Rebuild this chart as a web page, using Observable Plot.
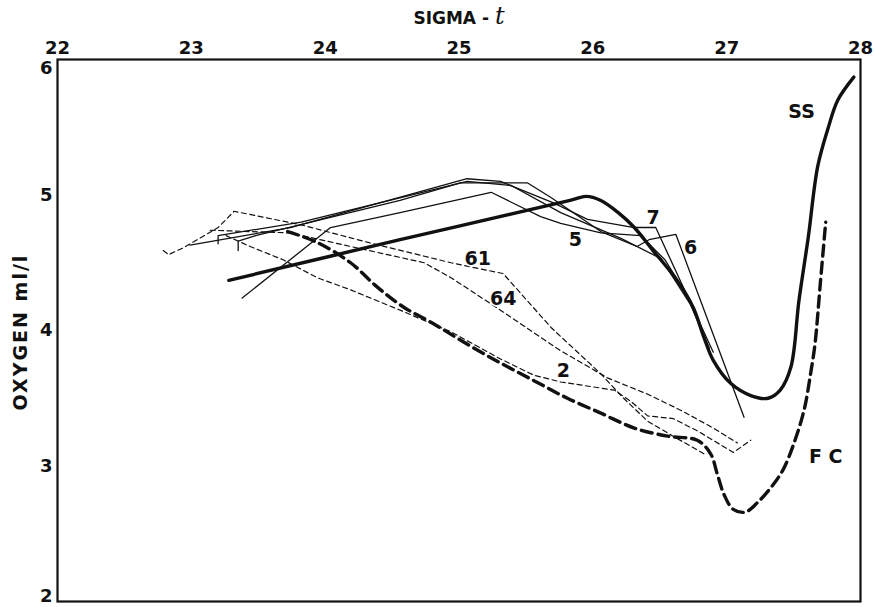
<!DOCTYPE html>
<html>
<head>
<meta charset="utf-8">
<script src="https://cdn.jsdelivr.net/npm/d3@7"></script>
<script src="https://cdn.jsdelivr.net/npm/@observablehq/plot@0.6"></script>
<style>
  html, body { margin: 0; padding: 0; background: #fff; }
  #chart svg { display: block; }
</style>
</head>
<body>
<div id="chart"></div>
<script>
// Tick labels
const sigmaTicks = [22, 23, 24, 25, 26, 27, 28];
const oxygenTicks = [2, 3, 4, 5, 6];

// Heavy curves: [sigma-t, oxygen ml/l]
const curveSS = [
  [23.28, 4.37], [24.56, 4.67], [25.83, 4.96], [25.95, 4.99], [26.06, 4.96],
  [26.19, 4.87], [26.31, 4.76], [26.45, 4.59], [26.63, 4.37], [26.75, 4.17],
  [26.83, 3.95], [26.90, 3.78], [27.03, 3.61], [27.18, 3.52], [27.31, 3.50],
  [27.40, 3.56], [27.48, 3.73], [27.54, 4.22], [27.61, 4.69], [27.68, 5.21],
  [27.76, 5.50], [27.83, 5.70], [27.95, 5.87]
];
const curveFC = [
  [23.72, 4.73], [23.94, 4.65], [24.19, 4.50], [24.39, 4.32], [24.59, 4.17],
  [24.81, 4.05], [25.06, 3.90], [25.31, 3.76], [25.56, 3.63], [25.81, 3.50],
  [26.06, 3.39], [26.31, 3.28], [26.56, 3.22], [26.78, 3.19], [26.88, 3.09],
  [26.93, 2.94], [26.98, 2.79], [27.05, 2.68], [27.14, 2.66], [27.23, 2.73],
  [27.33, 2.84], [27.42, 2.97], [27.50, 3.16], [27.58, 3.42], [27.63, 3.70],
  [27.66, 3.90], [27.70, 4.35], [27.74, 4.80]
];

// Thin solid station lines
const station7 = [
  [22.99, 4.63], [23.74, 4.76], [25.06, 5.12], [25.31, 5.10], [25.71, 4.94],
  [25.96, 4.82], [26.31, 4.76], [26.47, 4.76], [26.90, 3.84]
];
const station6 = [
  [23.35, 4.59], [23.35, 4.66], [23.48, 4.70], [24.56, 4.96], [25.01, 5.09],
  [25.51, 5.09], [25.69, 4.98], [26.06, 4.73], [26.33, 4.62], [26.42, 4.67],
  [26.62, 4.71], [27.13, 3.36]
];
const station5 = [
  [23.38, 4.24], [24.04, 4.76], [24.56, 4.87], [25.24, 5.02], [25.61, 4.84],
  [25.76, 4.79], [26.06, 4.72], [26.36, 4.70], [26.54, 4.52], [26.73, 4.22],
  [26.84, 3.93]
];
const stationA = [
  [23.20, 4.64], [23.20, 4.70], [23.82, 4.80], [25.06, 5.10], [25.39, 5.07],
  [25.76, 4.87], [26.21, 4.68], [26.51, 4.53], [26.73, 4.19], [26.87, 3.87]
];

// Thin dashed station lines
const station61 = [
  [22.79, 4.59], [22.83, 4.56], [22.94, 4.61], [23.20, 4.76], [23.32, 4.88],
  [23.82, 4.78], [24.32, 4.65], [24.94, 4.50], [25.33, 4.42], [25.69, 4.02],
  [26.06, 3.68], [26.23, 3.50], [26.41, 3.33], [26.60, 3.22], [26.83, 3.09]
];
const station64 = [
  [23.14, 4.74], [23.74, 4.72], [24.19, 4.62], [24.74, 4.50], [24.94, 4.39],
  [25.31, 4.15], [25.76, 3.85], [26.11, 3.65], [26.41, 3.53], [26.66, 3.41],
  [26.90, 3.28], [27.08, 3.17]
];
const station2 = [
  [23.26, 4.70], [23.44, 4.62], [23.69, 4.52], [23.94, 4.39], [24.19, 4.30],
  [24.56, 4.15], [24.94, 3.99], [25.31, 3.79], [25.56, 3.67], [25.76, 3.62],
  [26.16, 3.56], [26.28, 3.48], [26.41, 3.37], [26.60, 3.35], [26.78, 3.26],
  [27.05, 3.10], [27.18, 3.19]
];

// Curve labels: [sigma-t, oxygen, text]
const curveLabels = [
  [27.56, 5.61, "SS"], [27.74, 3.07, "F C"], [26.45, 4.83, "7"],
  [26.73, 4.61, "6"], [25.87, 4.67, "5"], [25.14, 4.53, "61"],
  [25.33, 4.23, "64"], [25.78, 3.70, "2"]
];

const font = "'DejaVu Sans', 'Liberation Sans', sans-serif";

const thin = {x: d => d[0], y: d => d[1], stroke: "#111", strokeWidth: 1.3, curve: "linear"};
const dashed = {...thin, strokeWidth: 1.2, strokeDasharray: "5,3.5"};
const yTick = {anchor: "left", tickSize: 0, tickPadding: 5, label: null,
  fontSize: 18, fontWeight: "bold", tickFormat: d => String(d)};

const chart = Plot.plot({
  width: 875,
  height: 607,
  marginLeft: 57,
  marginRight: 15,
  marginTop: 59,
  marginBottom: 6,
  style: {fontFamily: font, background: "#fff", color: "#111"},
  x: {domain: [22, 28]},
  y: {domain: [2, 6]},
  marks: [
    Plot.frame({stroke: "#111", strokeWidth: 2.2}),
    Plot.axisX({anchor: "top", ticks: sigmaTicks, tickSize: 0, tickPadding: 6, label: null,
      fontSize: 18, fontWeight: "bold", tickFormat: d => String(d)}),
    Plot.axisY({...yTick, ticks: oxygenTicks.filter(d => d > 2 && d < 6)}),
    Plot.axisY({...yTick, ticks: oxygenTicks.filter(d => d === 6), dy: 9}),
    Plot.axisY({...yTick, ticks: oxygenTicks.filter(d => d === 2), dy: -5}),
    Plot.line(station7, thin),
    Plot.line(station6, thin),
    Plot.line(station5, thin),
    Plot.line(stationA, thin),
    Plot.line(station61, dashed),
    Plot.line(station64, dashed),
    Plot.line(station2, dashed),
    Plot.line(curveSS, {x: d => d[0], y: d => d[1], stroke: "#111", strokeWidth: 3.4, curve: "catmull-rom"}),
    Plot.line(curveFC, {x: d => d[0], y: d => d[1], stroke: "#111", strokeWidth: 3.4, curve: "catmull-rom", strokeDasharray: "11,6"}),
    Plot.text(curveLabels, {x: d => d[0], y: d => d[1], text: d => d[2], fontSize: 19, fontWeight: "bold",
      fill: "#111", stroke: "#fff", strokeWidth: 3, paintOrder: "stroke"})
  ]
});

document.getElementById("chart").appendChild(chart);

const svg = d3.select(chart);
// x-axis title with italic t
const xt = svg.append("text")
  .attr("x", 459).attr("y", 24)
  .attr("text-anchor", "middle")
  .attr("font-family", font).attr("font-size", 17).attr("font-weight", "bold")
  .attr("fill", "#111");
xt.append("tspan").text("SIGMA - ");
xt.append("tspan").attr("font-style", "italic").attr("font-family", "'DejaVu Serif', serif")
  .attr("font-size", 24).attr("font-weight", "normal").text("t");

// y-axis title
svg.append("text")
  .attr("transform", "translate(27,332) rotate(-90)")
  .attr("text-anchor", "middle")
  .attr("font-family", font).attr("font-size", 19).attr("font-weight", "bold")
  .attr("letter-spacing", 2)
  .attr("fill", "#111")
  .text("OXYGEN ml/l");
</script>
</body>
</html>
